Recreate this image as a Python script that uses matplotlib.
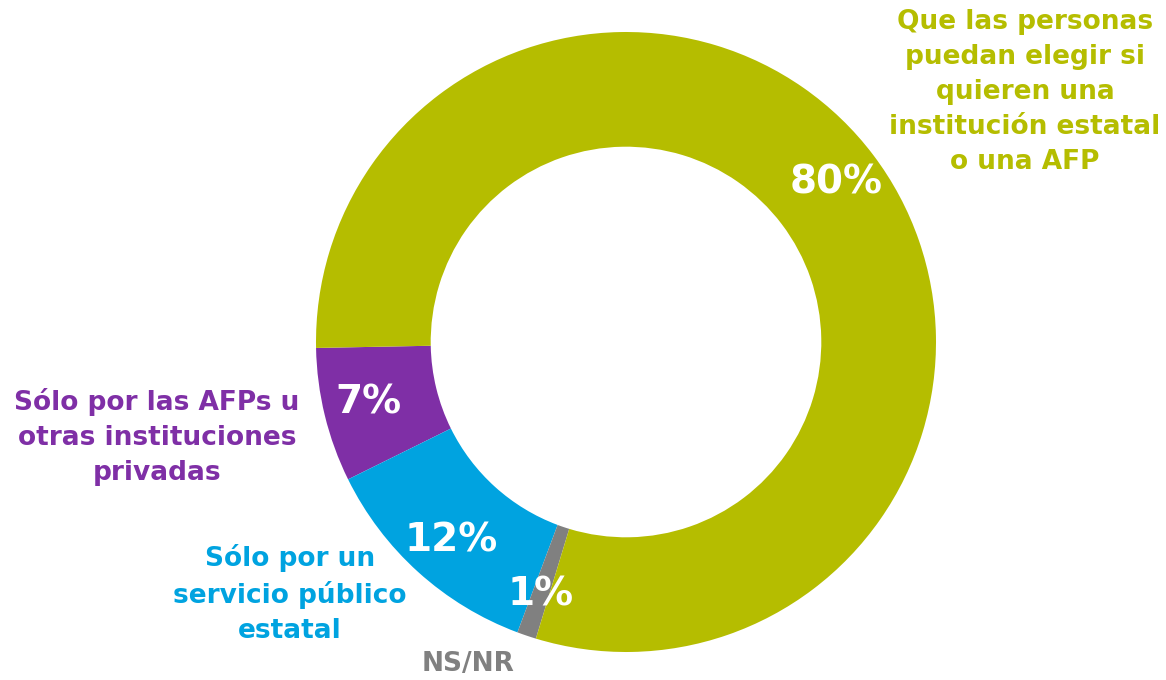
import matplotlib.pyplot as plt

# datos
categorias = ["Sólo por las AFPs u\notras instituciones\nprivadas",
              "Sólo por un\nservicio público\nestatal",
              "NS/NR",
              "Que las personas\npuedan elegir si\nquieren una\ninstitución estatal\no una AFP"]
valores = [7, 12, 1, 80]
etiquetas = ["7%", "12%", "1%", "80%"]
colores = ["#7F2FA6", "#00A3E0", "#808080", "#B5BD00"]

W, H = 1166, 680
fig = plt.figure(figsize=(W / 100, H / 100), dpi=100)
ax = fig.add_axes([0, 0, 1, 1])

cx, cy, r = 626, H - 342, 310
ax.pie(valores, colors=colores, startangle=181.1, counterclock=True,
       center=(cx, cy), radius=r, frame=True,
       wedgeprops=dict(width=r * 0.37, edgecolor="none"))
ax.set_xlim(0, W)
ax.set_ylim(0, H)
ax.axis("off")

fuente = "DejaVu Sans"

# porcentajes dentro del anillo
pos_pct = [(368, 403), (451, 541), (541, 594), (836, 183)]
for txt, (x, y) in zip(etiquetas, pos_pct):
    ax.text(x, H - y, txt, color="white", fontsize=28, fontweight="bold",
            family=fuente, ha="center", va="center")

# etiquetas de categoria
pos_cat = [(157, 437), (290, 594), (468, 664), (1025, 92)]
for txt, (x, y), c in zip(categorias, pos_cat, colores):
    ax.text(x, H - y, txt, color=c, fontsize=19, fontweight="bold",
            family=fuente, ha="center", va="center", linespacing=1.44)

fig.savefig("out.png", dpi=100)
